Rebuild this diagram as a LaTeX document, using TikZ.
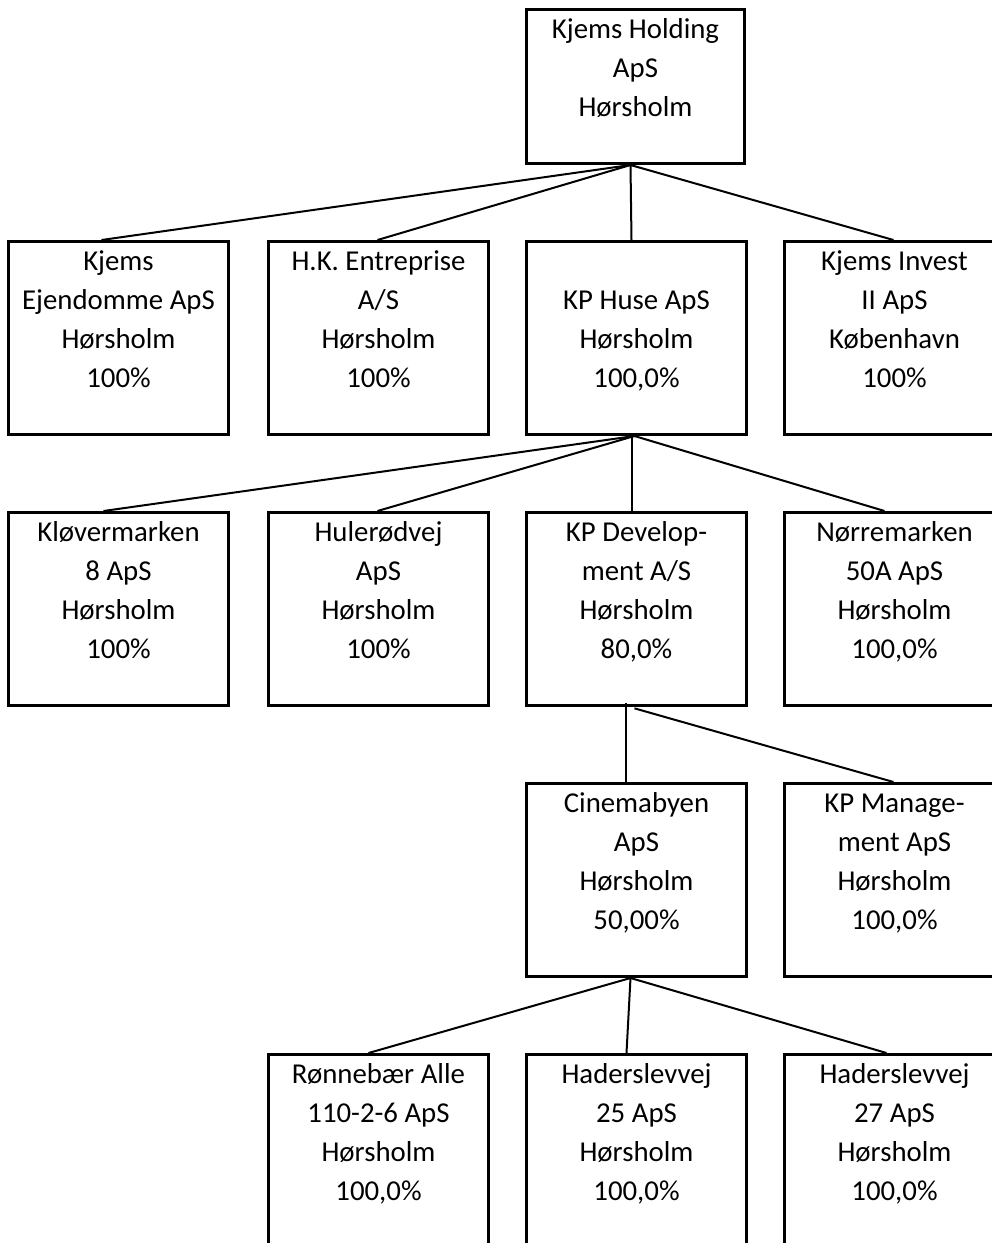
\documentclass[tikz,border=0pt]{standalone}
\usepackage{fontspec}
\setmainfont{Carlito}
\usetikzlibrary{calc}
\begin{document}
\begin{tikzpicture}[x=0.75pt,y=-0.75pt,
  orgbox/.style={draw=black, line width=2.25pt, inner sep=0pt, anchor=north west, minimum width=165pt, minimum height=144.75pt},
  topbox/.style={draw=black, line width=2.25pt, inner sep=0pt, anchor=north west, minimum width=163.5pt, minimum height=115.5pt},
  txt/.style={anchor=north, inner sep=0pt, align=center, font=\fontsize{21.6}{29.25}\selectfont},
  conn/.style={draw=black, line width=1.5pt}]
\useasboundingbox (0,0) rectangle (992,1243);
\clip (0,0) rectangle (992,1243);
% boxes
\node[topbox] (h) at (525,8) {};
\node[orgbox] (a1) at (7,240) {};
\node[orgbox] (a2) at (267,240) {};
\node[orgbox] (a3) at (525,240) {};
\node[orgbox] (a4) at (783,240) {};
\node[orgbox] (b1) at (7,511) {};
\node[orgbox] (b2) at (267,511) {};
\node[orgbox] (b3) at (525,511) {};
\node[orgbox] (b4) at (783,511) {};
\node[orgbox] (c1) at (525,782) {};
\node[orgbox] (c2) at (783,782) {};
\node[orgbox] (d1) at (267,1053) {};
\node[orgbox] (d2) at (525,1053) {};
\node[orgbox] (d3) at (783,1053) {};
% texts
\node[txt] (th) at ([yshift=-2pt]h.north) {\strut Kjems Holding\\ApS\\Hørsholm};
\node[txt] (ta1) at ([yshift=-2pt]a1.north) {\strut Kjems\\Ejendomme ApS\\Hørsholm\\100\%};
\node[txt] (ta2) at ([yshift=-2pt]a2.north) {\strut H.K. Entreprise\\A/S\\Hørsholm\\100\%};
\node[txt] (ta3) at ([yshift=-2pt]a3.north) {\strut \\KP Huse ApS\\Hørsholm\\100,0\%};
\node[txt] (ta4) at ([yshift=-2pt]a4.north) {\strut Kjems Invest\\II ApS\\København\\100\%};
\node[txt] (tb1) at ([yshift=-2pt]b1.north) {\strut Kløvermarken\\8 ApS\\Hørsholm\\100\%};
\node[txt] (tb2) at ([yshift=-2pt]b2.north) {\strut Hulerødvej\\ApS\\Hørsholm\\100\%};
\node[txt] (tb3) at ([yshift=-2pt]b3.north) {\strut KP Develop-\\ment A/S\\Hørsholm\\80,0\%};
\node[txt] (tb4) at ([yshift=-2pt]b4.north) {\strut Nørremarken\\50A ApS\\Hørsholm\\100,0\%};
\node[txt] (tc1) at ([yshift=-2pt]c1.north) {\strut Cinemabyen\\ApS\\Hørsholm\\50,00\%};
\node[txt] (tc2) at ([yshift=-2pt]c2.north) {\strut KP Manage-\\ment ApS\\Hørsholm\\100,0\%};
\node[txt] (td1) at ([yshift=-2pt]d1.north) {\strut Rønnebær Alle\\110-2-6 ApS\\Hørsholm\\100,0\%};
\node[txt] (td2) at ([yshift=-2pt]d2.north) {\strut Haderslevvej\\25 ApS\\Hørsholm\\100,0\%};
\node[txt] (td3) at ([yshift=-2pt]d3.north) {\strut Haderslevvej\\27 ApS\\Hørsholm\\100,0\%};
% connectors
\coordinate (sh) at ([xshift=-3.75pt]h.south);
\draw[conn] (sh) -- ([xshift=-12.75pt]a1.north);
\draw[conn] (sh) -- ([xshift=-0.75pt]a2.north);
\draw[conn] (sh) -- ([xshift=-3.75pt]a3.north);
\draw[conn] (sh) -- ([xshift=-0.75pt]a4.north);
\coordinate (sa) at ([xshift=-1.5pt]a3.south);
\draw[conn] (sa) -- ([xshift=-11.25pt]b1.north);
\draw[conn] (sa) -- ([xshift=-0.75pt]b2.north);
\draw[conn] ([xshift=-3.75pt]a3.south) -- ([xshift=-3.75pt]b3.north);
\draw[conn] (sa) -- ([xshift=-7.5pt]b4.north);
\coordinate (sb) at ([xshift=-1.5pt,yshift=-1pt]b3.south);
\draw[conn] ([xshift=-8.25pt,yshift=3pt]b3.south) -- ([xshift=-8.25pt]c1.north);
\draw[conn] (sb) -- ([xshift=-0.75pt]c2.north);
\coordinate (sc) at ([xshift=-4.5pt]c1.south);
\draw[conn] (sc) -- ([xshift=-7.5pt]d1.north);
\draw[conn] (sc) -- ([xshift=-7.5pt]d2.north);
\draw[conn] (sc) -- ([xshift=-6pt]d3.north);
\end{tikzpicture}
\end{document}
